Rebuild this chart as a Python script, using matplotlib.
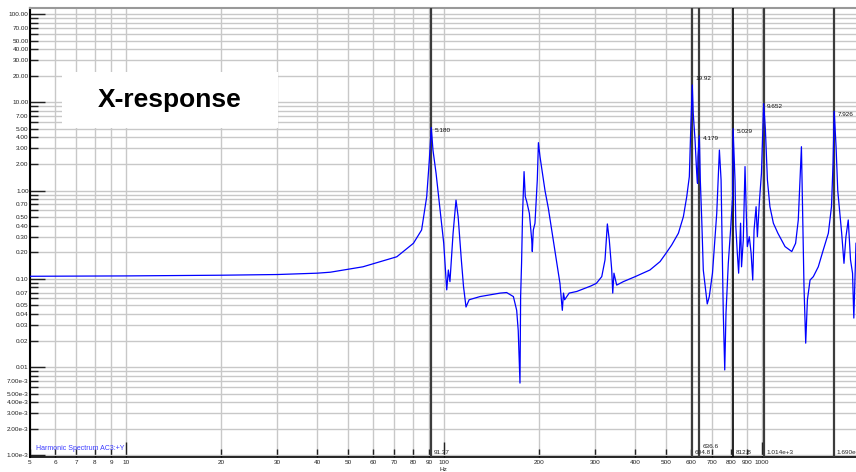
import math
import matplotlib
matplotlib.use("Agg")
import matplotlib.pyplot as plt
import matplotlib.transforms as mtransforms
from matplotlib.patches import Rectangle
from matplotlib.ticker import FixedLocator, FuncFormatter

plt.rcParams['font.family'] = ['Liberation Sans', 'DejaVu Sans']

# spectrum (Hz, amplitude)
freq_hz = [
    5, 10, 20, 30, 40, 44, 55.7, 71.2, 80.3, 85.2, 88.4, 90.1,
    91.37, 92.5, 94.6, 96.9, 100, 102.2, 103.4, 104.6, 107.0, 109.3,
    111.0, 113.6, 115.4, 117.5, 120.2, 130, 139.8, 150.5, 157.7, 165.6,
    169.6, 171.5, 173.7, 174.5, 175.7, 177.0, 178.9, 180.5, 182.4, 185.9,
    189.1, 189.9, 191.3, 193.6, 196.9, 198.5, 200.8, 208.2, 213.3, 218.5,
    226.6, 232, 236, 238, 240, 248, 262, 290, 302, 314,
    321.5, 327, 331.6, 337.5, 340, 343, 349.9, 367, 400, 445,
    479, 500, 521, 547, 567, 581, 592, 598, 604.8, 609,
    617, 624.5, 628, 630, 636.6, 641, 647.7, 655, 668, 674,
    684, 700, 722, 736, 745, 751, 757, 765, 772, 785,
    798, 810, 812.8, 824, 829, 838, 846, 858, 864, 875,
    886, 893, 901, 914, 926, 937, 946, 960, 969, 984,
    998, 1014, 1027, 1042, 1061, 1088, 1124, 1184, 1243, 1278,
    1303, 1333, 1346, 1358, 1375, 1392, 1419, 1453, 1506, 1561,
    1620, 1657, 1676, 1690, 1713, 1734, 1784, 1814, 1840, 1871,
    1902, 1930, 1948, 1979,
]
amplitude = [
    0.107, 0.108, 0.110, 0.112, 0.116, 0.119, 0.137, 0.178, 0.253, 0.358, 0.853, 2.22,
    5.18, 2.88, 1.57, 0.718, 0.253, 0.075, 0.126, 0.093, 0.328, 0.78,
    0.506, 0.164, 0.082, 0.048, 0.058, 0.063, 0.066, 0.069, 0.070, 0.063,
    0.044, 0.026, 0.0066, 0.063, 0.150, 0.553, 1.64, 0.853, 0.749, 0.553,
    0.276, 0.204, 0.358, 0.426, 1.32, 3.49, 2.42, 1.0, 0.63, 0.358,
    0.150, 0.089, 0.044, 0.069, 0.058, 0.069, 0.072, 0.083, 0.089, 0.106,
    0.164, 0.419, 0.276, 0.126, 0.069, 0.116, 0.085, 0.093, 0.106, 0.126,
    0.157, 0.195, 0.242, 0.329, 0.506, 0.853, 1.44, 4.86, 15.7, 7.5,
    3.74, 1.57, 1.21, 2.42, 4.179, 1.32, 0.465, 0.126, 0.069, 0.052,
    0.063, 0.116, 0.553, 2.88, 1.32, 0.232, 0.041, 0.0093, 0.041, 0.150,
    0.358, 0.853, 5.029, 1.32, 0.39, 0.195, 0.116, 0.427, 0.137, 0.276,
    1.87, 0.657, 0.232, 0.30, 0.195, 0.097, 0.358, 0.657, 0.30, 0.78,
    1.57, 9.652, 4.86, 1.32, 0.657, 0.427, 0.329, 0.232, 0.204, 0.253,
    0.465, 3.14, 0.465, 0.082, 0.0187, 0.058, 0.097, 0.106, 0.137, 0.212,
    0.329, 0.657, 2.04, 7.926, 3.14, 1.0, 0.329, 0.150, 0.30, 0.465,
    0.164, 0.116, 0.036, 0.253,
]
assert len(freq_hz) == len(amplitude)

# cursors
cursor_hz = [91.37, 604.8, 636.6, 812.8, 1014, 1690]
cursor_peak = [5.180, 19.92, 4.179, 5.029, 9.652, 7.926]
cursor_peak_txt = ["5.180", "19.92", "4.179", "5.029", "9.652", "7.926"]
cursor_hz_txt = ["91.37", "604.8", "636.6", "812.8", "1.014e+3", "1.690e+3"]

x_major = [10, 100, 1000]
x_minor = [5, 6, 7, 8, 9, 20, 30, 40, 50, 60, 70, 80, 90,
           200, 300, 400, 500, 600, 700, 800, 900, 2000]
y_major = [1e-3, 1e-2, 1e-1, 1, 10, 100]
y_minor = [m * d for d in [1e-3, 1e-2, 1e-1, 1, 10] for m in range(2, 10)]

fig = plt.figure(figsize=(8.56, 4.72), dpi=100)
ax = fig.add_axes([30 / 856, 15 / 472, 826 / 856, 449 / 472])
ax.set_xscale('log')
ax.set_yscale('log')
ax.set_xlim(5, 1979)
ax.set_ylim(0.00096, 117)


def xfmt(v, pos):
    return f"{v:g}"


def yfmt(v, pos):
    e = math.floor(math.log10(v) + 1e-9)
    m = round(v / 10 ** e)
    if m in (6, 8, 9):
        return ''
    if v >= 0.0099:
        return f"{v:.2f}"
    mant, ex = f"{v:.2e}".split('e')
    return f"{mant}e{int(ex)}"


ax.xaxis.set_major_locator(FixedLocator(x_major))
ax.xaxis.set_minor_locator(FixedLocator(x_minor))
ax.xaxis.set_major_formatter(FuncFormatter(xfmt))
ax.xaxis.set_minor_formatter(FuncFormatter(xfmt))
ax.yaxis.set_major_locator(FixedLocator(y_major))
ax.yaxis.set_minor_locator(FixedLocator(y_minor))
ax.yaxis.set_major_formatter(FuncFormatter(yfmt))
ax.yaxis.set_minor_formatter(FuncFormatter(yfmt))

ax.grid(which='both', color='#c8c8c8', lw=1.0)
ax.tick_params(which='both', direction='in', labelsize=4.6, colors='#222222', width=1)
ax.tick_params(which='major', length=11)
ax.tick_params(which='minor', length=5.5)
ax.tick_params(axis='y', which='both', pad=1)
ax.tick_params(axis='x', which='both', pad=2)

ax.spines['left'].set_linewidth(1.5)
ax.spines['bottom'].set_linewidth(1.2)
ax.spines['top'].set_color('#999999')
ax.spines['top'].set_linewidth(1.5)
ax.spines['right'].set_visible(False)

ax.plot(freq_hz, amplitude, color='#0000ff', lw=0.9, zorder=3)

for f in cursor_hz:
    black = f == 812.8
    ax.axvline(f, color='#000000' if black else '#3c3c3c', lw=1.2 if black else 1.6, zorder=2.8)

for f, v, t in zip(cursor_hz, cursor_peak, cursor_peak_txt):
    ax.annotate(t, (f, v), xytext=(2.5, -2.2), textcoords='offset points',
                fontsize=4.6, ha='left', va='center', color='#111111', zorder=4)

trans = mtransforms.blended_transform_factory(ax.transData, ax.transAxes)
for f, t in zip(cursor_hz, cursor_hz_txt):
    dy = 7.9 if t == "636.6" else 2.9
    ax.annotate(t, (f, 0), xycoords=trans, xytext=(2, dy), textcoords='offset points',
                fontsize=4.6, ha='left', va='center', color='#222222', zorder=4)

# title box
ax.add_patch(Rectangle((32 / 826, 329 / 449), 216 / 826, 56 / 449, transform=ax.transAxes,
                       facecolor='white', edgecolor='none', zorder=2.5))
ax.text(140 / 826, 357 / 449, "X-response", transform=ax.transAxes, fontsize=19,
        fontweight='bold', ha='center', va='center', color='black', zorder=3)

ax.text(6 / 826, 9 / 449, "Harmonic Spectrum AC3:+Y", transform=ax.transAxes,
        fontsize=5, color='#3a3aff', ha='left', va='center', zorder=4)
ax.text(100, -0.028, "Hz", transform=trans, fontsize=4.6, ha='center', va='center',
        color='#222222')

fig.savefig("out.png", dpi=100)
